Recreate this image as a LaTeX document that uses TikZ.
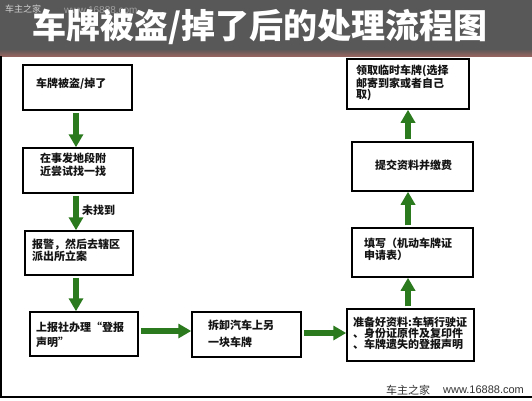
\documentclass[tikz,border=0pt]{standalone}
\usepackage{fontspec}
\setmainfont{Noto Sans CJK SC}
\newfontfamily\wmfont{Liberation Sans}
\usetikzlibrary{arrows.meta}
\definecolor{barc}{RGB}{88,88,88}
\definecolor{barred}{RGB}{150,100,95}
\definecolor{arrg}{RGB}{44,122,30}
\definecolor{txt}{RGB}{20,20,20}
\tikzset{
  box/.style={draw=black, line width=1.5pt, fill=white, inner sep=0pt},
  btxt/.style={anchor=west, inner sep=0pt, align=left, text=txt, font=\bfseries\fontsize{11}{#1}\selectfont},
  btxt/.default=12,
  garrow/.style={draw=arrg, line width=6pt, -{Triangle[width=14pt,length=13pt]}, shorten <=2pt, shorten >=0pt},
}
\begin{document}
\begin{tikzpicture}[x=1pt,y=-1pt]
\useasboundingbox (0,0) rectangle (532,400);
\fill[white] (0,0) rectangle (532,400);
% title bar
\fill[barc] (0,0) rectangle (532,49);
\shade[top color=barc, bottom color=barred] (0,49) rectangle (532,56);
\node[anchor=west, inner sep=0pt, text=gray!35, font=\fontsize{9}{9}\selectfont] (wm1) at (5,9) {车主之家};
\node[anchor=west, inner sep=0pt, text=gray!75, font=\wmfont\fontsize{10}{10}\selectfont] (wm2) at (64,10) {www.16888.com};
\node[inner sep=0pt, text=white, draw=none, font=\bfseries\fontsize{34}{34}\selectfont] (title) at (260,27) {车牌被盗/掉了后的处理流程图};
% frame
\draw[black, line width=1.5pt] (1,56) -- (1,397) -- (532,397);
% boxes
\node[box, minimum width=109pt, minimum height=45pt] (b1) at (77.5,87.5) {};
\node[box, minimum width=110pt, minimum height=45pt] (b2) at (78,170.5) {};
\node[box, minimum width=108pt, minimum height=44pt] (b3) at (79,253) {};
\node[box, minimum width=108pt, minimum height=44pt] (b4) at (84,334) {};
\node[box, minimum width=109pt, minimum height=45pt] (b5) at (246.5,334.5) {};
\node[box, minimum width=127pt, minimum height=52pt] (b6) at (410.5,335) {};
\node[box, minimum width=121pt, minimum height=49pt] (b7) at (412.5,252.5) {};
\node[box, minimum width=121pt, minimum height=49pt] (b8) at (412.5,166.5) {};
\node[box, minimum width=122pt, minimum height=50pt] (b9) at (408,84) {};
% texts
\node[btxt] (t1) at (36,84) {车牌被盗/掉了};
\node[btxt=13] (t2) at (40,164.5) {在事发地段附\\近尝试找一找};
\node[btxt=12] (t3) at (32,250) {报警，然后去辖区\\派出所立案};
\node[btxt=15] (t4) at (36,334.5) {上报社办理“登报\\声明”};
\node[btxt=17] (t5) at (208,333.5) {拆卸汽车上另\\一块车牌};
\node[btxt=11] (t6) at (353,333) {准备好资料:车辆行驶证\\、身份证原件及复印件\\、车牌遗失的登报声明};
\node[btxt=12] (t7) at (364,249) {填写（机动车牌证\\申请表）};
\node[btxt] (t8) at (375,165.5) {提交资料并缴费};
\node[btxt=11] (t9) at (356,83) {领取临时车牌(选择\\邮寄到家或者自己\\取)};
% columns / rows for arrows
\coordinate (colA) at (76,0);
\coordinate (colB) at (408,0);
\coordinate (rowA) at (0,331);
\coordinate (rowB) at (0,333);
% arrows
\draw[garrow] (b1.south -| colA) -- (b2.north -| colA);
\draw[garrow] (b2.south -| colA) -- (b3.north -| colA);
\node[anchor=west, inner sep=0pt, text=txt, font=\bfseries\fontsize{11}{11}\selectfont] (lbl) at (82,210) {未找到};
\draw[garrow] (b3.south -| colA) -- (b4.north -| colA);
\draw[garrow] (b4.east |- rowA) -- (b5.west |- rowA);
\draw[garrow] (b5.east |- rowB) -- (b6.west |- rowB);
\draw[garrow] (b6.north -| colB) -- (b7.south -| colB);
\draw[garrow] (b7.north -| colB) -- (b8.south -| colB);
\draw[garrow] (b8.north -| colB) -- (b9.south -| colB);
% bottom watermark
\node[anchor=west, inner sep=0pt, text=black!80, font=\fontsize{11}{11}\selectfont] (wm3) at (386,390) {车主之家};
\node[anchor=west, inner sep=0pt, text=black!80, font=\wmfont\fontsize{11}{11}\selectfont] (wm4) at (443,390) {www.16888.com};
\end{tikzpicture}
\end{document}
